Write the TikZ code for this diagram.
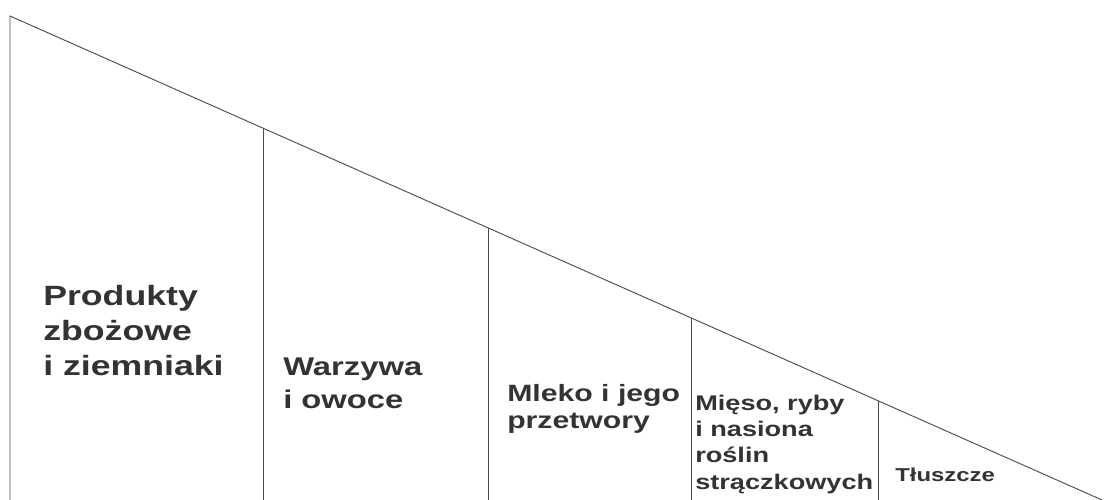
\documentclass[tikz,border=0pt]{standalone}
\usepackage{fontspec}
\usepackage{tikz}
\usetikzlibrary{calc}
\newfontfamily\labelfont[FakeStretch=1.28]{Liberation Sans}
\tikzstyle{edge} = [draw=black!70, line width=0.7pt]
\tikzstyle{tier} = [anchor=north west, inner sep=0pt, align=left, text=black!80]

\begin{document}
\begin{tikzpicture}[x=0.75pt, y=-0.75pt]
			\useasboundingbox (0,0) rectangle (1104,500);
			\coordinate (apex) at (10,16);
			\coordinate (corner) at (10,500);
			\coordinate (tip) at (1102,500);
			\draw [edge] (corner) -- (apex) -- (tip);
			\foreach \x [count=\i] in {263,488,691,878} {
				\coordinate (d\i) at ($(apex)!{(\x-10)/1092}!(tip)$);
				\draw [edge] (d\i) -- (d\i |- corner);
			}
			\node (grain) [tier, font={\labelfont\bfseries\fontsize{20.9}{26.4}\selectfont}] at (43,285) {Produkty\\zbożowe\\i ziemniaki};
			\node (veg) [tier, font={\labelfont\bfseries\fontsize{19.2}{24.7}\selectfont}] at (283,358) {Warzywa\\i owoce};
			\node (milk) [tier, font={\labelfont\bfseries\fontsize{17.7}{20.2}\selectfont}] at (507,384) {Mleko i jego\\przetwory};
			\node (meat) [tier, font={\labelfont\bfseries\fontsize{15.9}{19.6}\selectfont}] at (695,395) {Mięso, ryby\\i nasiona\\roślin\\strączkowych};
			\node (fat) [tier, font={\labelfont\bfseries\fontsize{14}{16}\selectfont}] at (895,468) {Tłuszcze};
		\end{tikzpicture}
\end{document}
